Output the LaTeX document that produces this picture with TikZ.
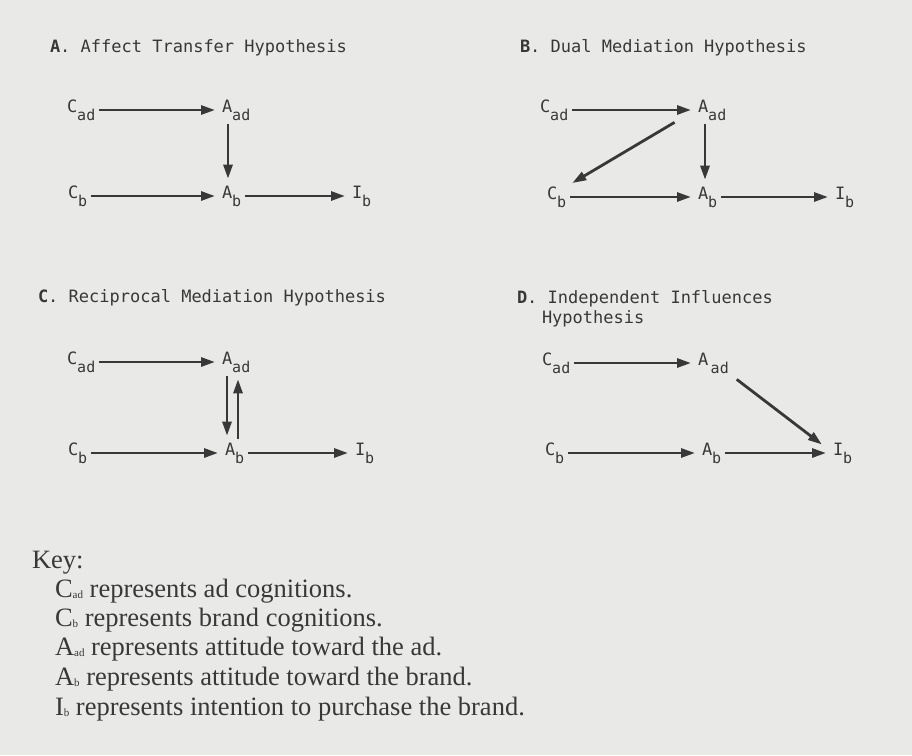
\documentclass[tikz,border=0pt]{standalone}
\usepackage{fontspec}
\setmainfont{Liberation Serif}
\newfontfamily\typefont{DejaVu Sans Mono}
\usetikzlibrary{arrows.meta}
\definecolor{paper}{HTML}{E9E9E7}
\definecolor{ink}{HTML}{383838}
\newcommand\vlbl[2]{{\fontsize{17}{17}\selectfont #1\raisebox{-8pt}{\fontsize{15}{15}\selectfont #2}}}
\newcommand\ksub[2]{#1\raisebox{-1.5pt}{\fontsize{11}{11}\selectfont #2}}

\begin{document}
\begin{tikzpicture}[x=1pt, y=-1pt,
    every node/.style={text=ink, inner sep=0pt, outer sep=0pt},
    v/.style={anchor=west, font=\typefont},
    head/.style={anchor=base west, font=\typefont\fontsize{17}{20}\selectfont},
    keyline/.style={anchor=base west, font=\fontsize{26.5}{30}\selectfont},
    arr/.style={draw=ink, line width=2.8pt, -{Triangle[length=14pt,width=9pt]},
                shorten <=4pt, shorten >=7pt}]
  \fill[paper] (0,0) rectangle (912,755);
  \useasboundingbox (0,0) rectangle (912,755);
  % A
  \node[head] (ha) at (50,52) {\textbf{A}. Affect Transfer Hypothesis};
  \node[v] (cad1) at (67,110) {\vlbl{C}{ad}};
  \node[v] (aad1) at (222,110) {\vlbl{A}{ad}};
  \node[v] (cb1) at (68,196) {\vlbl{C}{b}};
  \node[v] (ab1) at (222,196) {\vlbl{A}{b}};
  \node[v] (ib1) at (352,196) {\vlbl{I}{b}};
  \draw[arr] (cad1.east) -- (aad1.west);
  \draw[arr] ([xshift=6pt]aad1.south west) -- ([xshift=6pt]ab1.north west);
  \draw[arr] (cb1.east) -- (ab1.west);
  \draw[arr] (ab1.east) -- (ib1.west);
  % B
  \node[head] (hb) at (520,52) {\textbf{B}. Dual Mediation Hypothesis};
  \node[v] (cad2) at (540,110) {\vlbl{C}{ad}};
  \node[v] (aad2) at (698,110) {\vlbl{A}{ad}};
  \node[v] (cb2) at (547,197) {\vlbl{C}{b}};
  \node[v] (ab2) at (698,197) {\vlbl{A}{b}};
  \node[v] (ib2) at (835,197) {\vlbl{I}{b}};
  \draw[arr] (cad2.east) -- (aad2.west);
  \draw[arr] ([xshift=7pt]aad2.south west) -- ([xshift=7pt]ab2.north west);
  \draw[arr] ([xshift=-20pt]aad2.south west) -- (cb2.north east);
  \draw[arr] (cb2.east) -- (ab2.west);
  \draw[arr] (ab2.east) -- (ib2.west);
  % C
  \node[head] (hc) at (38,302) {\textbf{C}. Reciprocal Mediation Hypothesis};
  \node[v] (cad3) at (67,362) {\vlbl{C}{ad}};
  \node[v] (aad3) at (222,362) {\vlbl{A}{ad}};
  \node[v] (cb3) at (68,453) {\vlbl{C}{b}};
  \node[v] (ab3) at (225,453) {\vlbl{A}{b}};
  \node[v] (ib3) at (355,453) {\vlbl{I}{b}};
  \draw[arr] (cad3.east) -- (aad3.west);
  \draw[arr] ([xshift=5pt]aad3.south west) -- ([xshift=2pt]ab3.north west);
  \draw[arr] ([xshift=13pt]ab3.north west) -- ([xshift=16pt]aad3.south west);
  \draw[arr] (cb3.east) -- (ab3.west);
  \draw[arr] (ab3.east) -- (ib3.west);
  % D
  \node[head] (hd) at (517,303) {\textbf{D}. Independent Influences};
  \node[head] (hd2) at (542,323) {Hypothesis};
  \node[v] (cad4) at (542,363) {\vlbl{C}{ad}};
  \node[v] (aad4) at (698,363) {\vlbl{A}{\,ad}};
  \node[v] (cb4) at (545,453) {\vlbl{C}{b}};
  \node[v] (ab4) at (702,453) {\vlbl{A}{b}};
  \node[v] (ib4) at (833,453) {\vlbl{I}{b}};
  \draw[arr] (cad4.east) -- (aad4.west);
  \draw[arr, shorten <=10pt, shorten >=14pt] (aad4.south east) -- (ib4.west);
  \draw[arr] (cb4.east) -- (ab4.west);
  \draw[arr] (ab4.east) -- (ib4.west);
  % key
  \node[keyline] (key) at (32,568) {Key:};
  \node[keyline] (k1) at (55,597) {\ksub{C}{ad} represents ad cognitions.};
  \node[keyline] (k2) at (55,626) {\ksub{C}{b} represents brand cognitions.};
  \node[keyline] (k3) at (55,655) {\ksub{A}{ad} represents attitude toward the ad.};
  \node[keyline] (k4) at (55,685) {\ksub{A}{b} represents attitude toward the brand.};
  \node[keyline] (k5) at (55,715) {\ksub{I}{b} represents intention to purchase the brand.};
\end{tikzpicture}
\end{document}
